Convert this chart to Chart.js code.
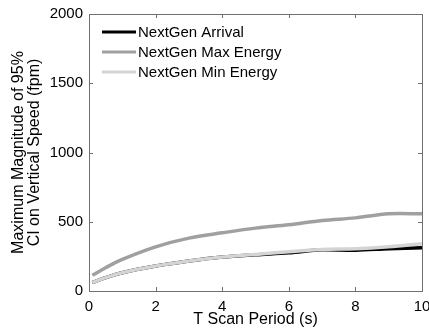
<!DOCTYPE html>
<html>
<head>
<meta charset="utf-8">
<script src="https://cdn.jsdelivr.net/npm/chart.js@4"></script>
<style>
  html, body { margin: 0; padding: 0; background: #fff; }
  #wrap { width: 429px; height: 332px; }
</style>
</head>
<body>
<div id="wrap"><canvas id="chart"></canvas></div>
<script>
const scanPeriod = [0.1, 0.5, 1, 2, 3, 4, 5, 6, 7, 8, 9, 10];
const arrival   = [60, 96, 132, 180, 216, 245, 262, 276, 298, 295, 305, 312];
const maxEnergy = [113, 168, 228, 319, 382, 420, 454, 478, 509, 528, 557, 557];
const minEnergy = [60, 96, 132, 180, 216, 245, 264, 283, 300, 305, 319, 341];
const xTicks = [0, 2, 4, 6, 8, 10];
const yTicks = [0, 500, 1000, 1500, 2000];

function pts(ys) {
    return scanPeriod.map((x, i) => ({ x: x, y: ys[i] }));
}

Chart.defaults.font.family = "'Liberation Sans', Arial, sans-serif";
Chart.defaults.color = "#000";

// matlab style box with inward ticks
const boxTicks = {
    id: "boxTicks",
    afterDraw(chart) {
        const ctx = chart.ctx, a = chart.chartArea;
        const xs = chart.scales.x, ys = chart.scales.y;
        ctx.save();
        ctx.strokeStyle = "#707070";
        ctx.lineWidth = 1;
        ctx.strokeRect(a.left + 0.5, a.top + 0.5, a.right - a.left, a.bottom - a.top);
        ctx.beginPath();
        xTicks.forEach(v => {
            const px = Math.round(xs.getPixelForValue(v)) + 0.5;
            ctx.moveTo(px, a.bottom); ctx.lineTo(px, a.bottom - 4);
            ctx.moveTo(px, a.top); ctx.lineTo(px, a.top + 4);
        });
        yTicks.forEach(v => {
            const py = Math.round(ys.getPixelForValue(v)) + 0.5;
            ctx.moveTo(a.left, py); ctx.lineTo(a.left + 4, py);
            ctx.moveTo(a.right, py); ctx.lineTo(a.right - 4, py);
        });
        ctx.stroke();
        ctx.restore();
    }
};

// legend drawn by hand so the order stays as listed while min energy sits on top
const legendBox = {
    id: "legendBox",
    afterDraw(chart) {
        const ctx = chart.ctx;
        const ds = chart.data.datasets;
        ctx.save();
        ctx.font = "15px 'Liberation Sans', Arial, sans-serif";
        ctx.textBaseline = "middle";
        ds.forEach((d, i) => {
            const y = 32 + i * 20;
            ctx.strokeStyle = d.borderColor;
            ctx.lineWidth = 3;
            ctx.beginPath();
            ctx.moveTo(102, y); ctx.lineTo(136, y);
            ctx.stroke();
            ctx.fillStyle = "#000";
            ctx.fillText(d.label, 138, y + 1);
        });
        ctx.restore();
    }
};

new Chart(document.getElementById("chart"), {
    type: "line",
    data: {
        datasets: [
            { label: "NextGen Arrival", data: pts(arrival), borderColor: "#000000", order: 3 },
            { label: "NextGen Max Energy", data: pts(maxEnergy), borderColor: "#a0a0a0", order: 2 },
            { label: "NextGen Min Energy", data: pts(minEnergy), borderColor: "#d4d4d4", order: 1 }
        ]
    },
    options: {
        responsive: true,
        maintainAspectRatio: false,
        animation: false,
        elements: {
            line: { borderWidth: 3.5, tension: 0.35, fill: false },
            point: { radius: 0 }
        },
        layout: { autoPadding: false, padding: { top: 14, right: 7, bottom: 3, left: 0 } },
        plugins: {
            tooltip: { enabled: false },
            legend: { display: false }
        },
        scales: {
            x: {
                type: "linear",
                min: 0, max: 10,
                afterBuildTicks: s => { s.ticks = xTicks.map(v => ({ value: v })); },
                afterFit: s => { s.height = 38; s.paddingLeft = 0; s.paddingRight = 0; },
                grid: { display: false, drawTicks: false },
                border: { display: false },
                ticks: { font: { size: 15 }, padding: 7, maxRotation: 0, callback: v => String(v) },
                title: { display: true, text: "T Scan Period (s)", font: { size: 16 }, padding: { top: 0, bottom: 0 } }
            },
            y: {
                min: 0, max: 2000,
                afterBuildTicks: s => { s.ticks = yTicks.map(v => ({ value: v })); },
                afterFit: s => { s.width = 89; s.paddingTop = 0; s.paddingBottom = 0; },
                grid: { display: false, drawTicks: false },
                border: { display: false },
                ticks: { font: { size: 15 }, padding: 6, callback: v => String(v) },
                title: {
                    display: true,
                    text: ["Maximum Magnitude of 95%", "CI on Vertical Speed (fpm)"],
                    font: { size: 16, lineHeight: 1.0 }, padding: { top: 11, bottom: 0 }
                }
            }
        }
    },
    plugins: [boxTicks, legendBox]
});
</script>
</body>
</html>
